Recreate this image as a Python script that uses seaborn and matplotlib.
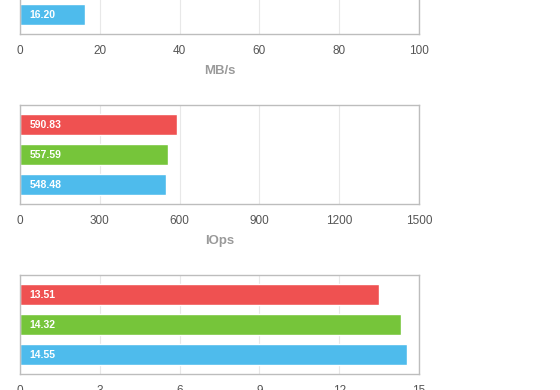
# Three stacked horizontal bar panels (benchmark results), cropped view
import matplotlib
matplotlib.use("Agg")
import matplotlib.pyplot as plt
import numpy as np
import pandas as pd
import seaborn as sns

# Data
series = ["red", "green", "blue"]
colors = ["#EF5151", "#76C53A", "#4EBBEC"]

mbps = [np.nan, np.nan, 16.20]   # only the last bar is visible in the crop
iops = [590.83, 557.59, 548.48]
third = [13.51, 14.32, 14.55]

mbps_ticks = [0, 20, 40, 60, 80, 100]
iops_ticks = [0, 300, 600, 900, 1200, 1500]
third_ticks = [0, 3, 6, 9, 12, 15]

sns.set_style("white")
plt.rcParams["font.family"] = ["Liberation Sans", "DejaVu Sans"]

W, H = 560, 390
fig = plt.figure(figsize=(W / 100, H / 100), dpi=100)

# (values, ticks, label, top of plot box in px)
panels = [
    (mbps, mbps_ticks, "MB/s", -65),
    (iops, iops_ticks, "IOps", 105),
    (third, third_ticks, "", 275),
]

box_left, box_w, box_h = 20, 399, 99
palette = dict(zip(series, colors))

for vals, ticks, label, top in panels:
    ax = fig.add_axes([box_left / W, (H - top - box_h) / H, box_w / W, box_h / H])
    df = pd.DataFrame({"series": series, "value": vals}).dropna()
    sns.barplot(data=df, x="value", y="series", hue="series", order=series,
                hue_order=series, palette=palette, orient="h", width=0.667,
                saturation=1, legend=False, ax=ax)
    ax.set_xlim(ticks[0], ticks[-1])
    ax.set_ylim(2.65, -0.65)
    ax.set_xticks(ticks)
    ax.set_xticklabels([str(t) for t in ticks])
    ax.set_yticks([])
    ax.set_ylabel("")
    ax.set_xlabel(label, fontsize=9.5, fontweight="bold", color="#9a9a9a", labelpad=6)
    ax.tick_params(axis="x", length=0, pad=8, labelsize=8.5, labelcolor="#555555")
    ax.xaxis.grid(True, color="#e8e8e8", linewidth=0.8)
    ax.set_axisbelow(True)
    for sp in ax.spines.values():
        sp.set_visible(True)
        sp.set_color("#bdbdbd")
        sp.set_linewidth(1.0)
    for i, v in enumerate(vals):
        if not np.isnan(v):
            ax.annotate(f"{v:.2f}", xy=(ticks[0], i), xytext=(7, 0),
                        textcoords="offset points", va="center", ha="left",
                        color="white", fontsize=7.5, fontweight="bold")

fig.savefig("out.png", dpi=100)
